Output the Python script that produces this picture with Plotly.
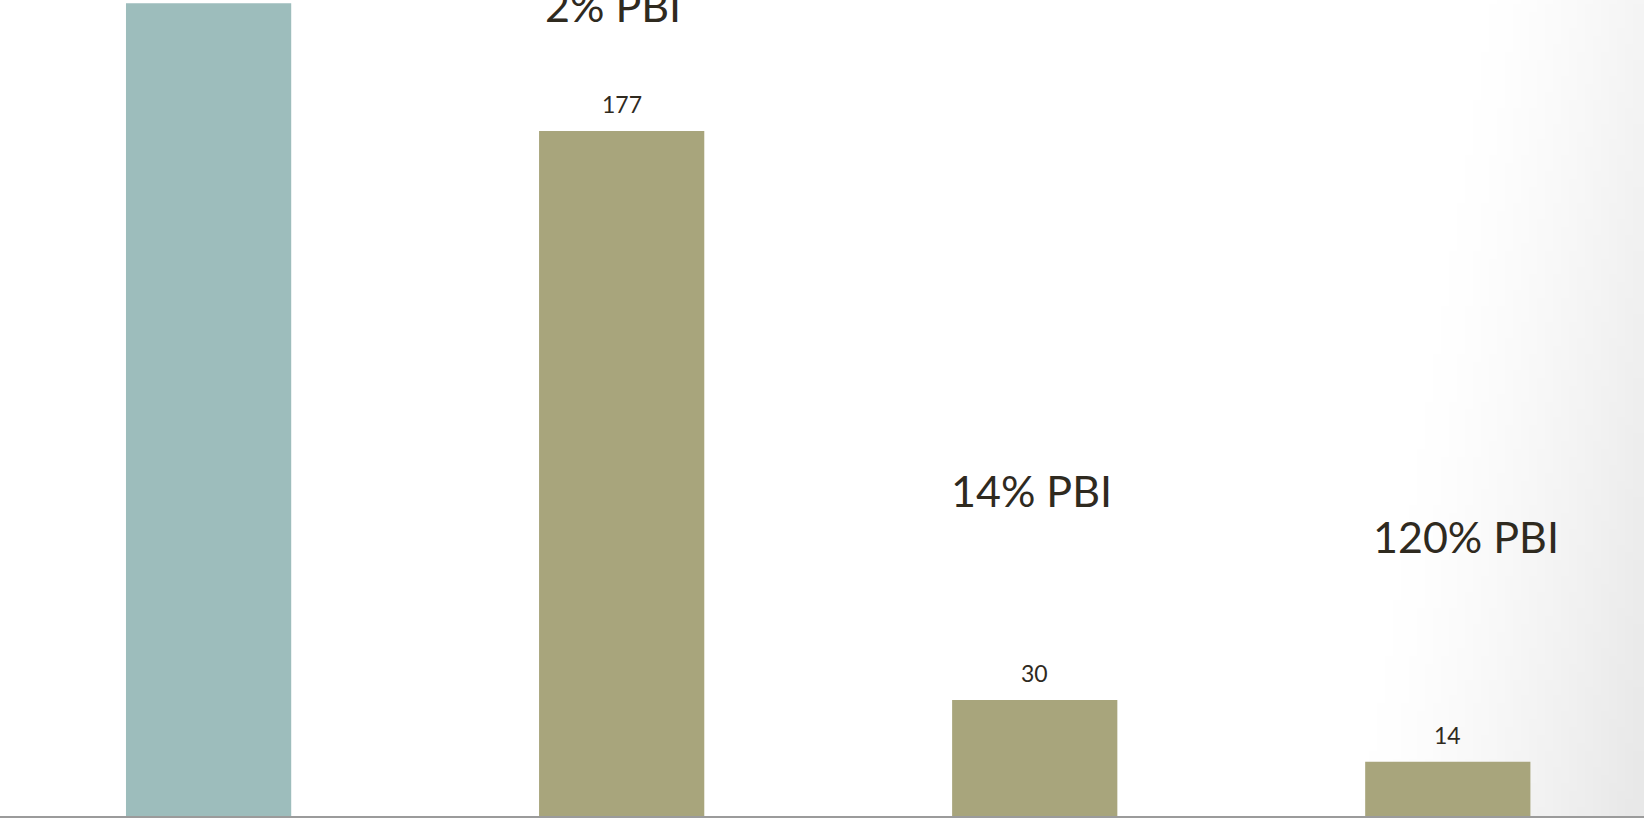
import base64, struct, zlib
import numpy as np
import plotly.graph_objects as go

# ---- data ----
categories = ["A", "B", "C", "D"]
values = [210, 177, 30, 14]
value_labels = ["", "177", "30", "14"]   # first bar's label lies outside the view
pbi_labels = ["2% PBI", "14% PBI", "120% PBI"]
pbi_x = [0.979, 1.991, 3.044]
pbi_y = [209.5, 84.0, 72.3]
colors = ["#9dbdbc", "#a8a57c", "#a8a57c", "#a8a57c"]

W, H = 1644, 818
FONT = "Lato, 'Noto Sans', sans-serif"
TXT = "#2f2a1f"

# ---- background vignette (right side) as PNG ----
def make_png(arr):
    h, w = arr.shape
    raw = b"".join(b"\x00" + bytes(arr[r].tolist()) for r in range(h))
    def chunk(t, d):
        c = struct.pack(">I", len(d)) + t + d
        return c + struct.pack(">I", zlib.crc32(t + d) & 0xffffffff)
    png = b"\x89PNG\r\n\x1a\n" + chunk(b"IHDR", struct.pack(">IIBBBBB", w, h, 8, 0, 0, 0, 0))
    png += chunk(b"IDAT", zlib.compress(raw, 9)) + chunk(b"IEND", b"")
    return "data:image/png;base64," + base64.b64encode(png).decode()

gw, gh = 206, 103
xs = np.linspace(0, W, gw)[None, :]
ys = np.linspace(0, H, gh)[:, None]
x0 = 1500 - 130 * (ys / H)
t = np.clip((xs - x0) / (W - x0), 0, 1) ** 1.3
dmax = 10 + 13 * (ys / H)
img = np.clip(255 - t * dmax, 0, 255).astype(np.uint8)
bg_src = make_png(img)

fig = go.Figure()
fig.add_trace(go.Bar(
    x=list(range(len(categories))), y=values, width=0.4,
    marker=dict(color=colors, line=dict(width=0)),
    hoverinfo="skip",
))

annotations = []
for i, (v, lab) in enumerate(zip(values, value_labels)):
    if not lab:
        continue
    annotations.append(dict(x=i, y=v, xref="x", yref="y", text=lab, showarrow=False,
                            yanchor="middle", yshift=27,
                            font=dict(family=FONT, size=23, color=TXT)))
for x, y, lab in zip(pbi_x, pbi_y, pbi_labels):
    annotations.append(dict(x=x, y=y, xref="x", yref="y", text=lab, showarrow=False,
                            yanchor="middle", xanchor="center",
                            font=dict(family=FONT, size=43, color=TXT)))

fig.update_layout(
    width=W, height=H,
    margin=dict(l=0, r=0, t=0, b=2),
    paper_bgcolor="white", plot_bgcolor="rgba(0,0,0,0)",
    showlegend=False,
    annotations=annotations,
    images=[dict(source=bg_src, xref="paper", yref="paper", x=0, y=1,
                 sizex=1, sizey=H / (H - 2), xanchor="left", yanchor="top",
                 sizing="stretch", layer="below")],
    xaxis=dict(range=[-0.505, 3.475], showgrid=False, zeroline=False,
               showticklabels=False, ticks="", showline=True,
               linecolor="#9b9b9b", linewidth=1.5),
    yaxis=dict(range=[0, 210.85], showgrid=False, zeroline=False,
               showticklabels=False, ticks="", showline=False),
)
fig.write_html("out.html", config={"displayModeBar": False},
               post_script="document.body.style.margin='0';document.body.style.overflow='hidden';")
